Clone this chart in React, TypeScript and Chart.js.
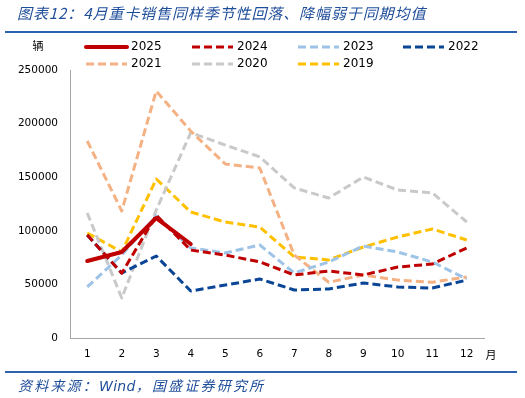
import React, { useEffect, useRef } from 'react';
import { Chart, registerables } from 'chart.js';
Chart.register(...registerables);

const months = ['1', '2', '3', '4', '5', '6', '7', '8', '9', '10', '11', '12'];
const y2025 = [71800, 80200, 111900, 87700, null, null, null, null, null, null, null, null];
const y2024 = [96000, 60500, 114500, 82000, 77400, 71000, 58800, 62500, 58800, 66200, 69000, 84000];
const y2023 = [47600, 77400, 114000, 84000, 79300, 86800, 60600, 70900, 85800, 80200, 70900, 55000];
const y2022 = [96100, 60600, 76500, 43800, 49400, 55000, 44800, 45700, 51300, 47600, 46600, 54000];
const y2021 = [183800, 118500, 230400, 193000, 162300, 158600, 77400, 52000, 58800, 54000, 52000, 57000];
const y2020 = [116600, 37300, 119400, 191500, 180000, 169000, 140000, 130600, 150200, 138000, 135400, 108200];
const y2019 = [98000, 80200, 148300, 117500, 108200, 103500, 75600, 72800, 84900, 94200, 101700, 91400];

const seriesNames = ['2025', '2024', '2023', '2022', '2021', '2020', '2019'];
const seriesColors = ['#C00000', '#C00000', '#9DC3E6', '#0B4596', '#F4B183', '#C9C9C9', '#FFC000'];
const seriesData = [y2025, y2024, y2023, y2022, y2021, y2020, y2019];

const TICK_FONT = { family: 'DejaVu Sans', size: 10.5 };

const legendPlugin = {
  id: 'customLegend',
  afterDraw(chart: any) {
    const ctx = chart.ctx;
    const cols = [86, 192, 298, 403];
    const rows = [47, 64];
    ctx.save();
    chart.data.datasets.forEach((ds: any, i: number) => {
      const x = cols[i % 4];
      const y = rows[Math.floor(i / 4)];
      ctx.beginPath();
      ctx.strokeStyle = ds.borderColor;
      ctx.lineWidth = ds.borderWidth;
      ctx.setLineDash(ds.borderDash || []);
      ctx.lineCap = ds.borderDash && ds.borderDash.length ? 'butt' : 'round';
      ctx.moveTo(x, y);
      ctx.lineTo(x + 41, y);
      ctx.stroke();
      ctx.setLineDash([]);
      ctx.fillStyle = '#000';
      ctx.font = '12px "DejaVu Sans"';
      ctx.textBaseline = 'middle';
      ctx.textAlign = 'left';
      ctx.fillText(ds.label, x + 45, y);
    });
    ctx.font = '11px "Noto Sans CJK SC"';
    ctx.textAlign = 'center';
    ctx.fillText('辆', 38, 46);
    ctx.fillText('月', 491, 355);
    ctx.restore();
  },
};

export default function App() {
  const ref = useRef<HTMLCanvasElement>(null);
  useEffect(() => {
    if (!ref.current) return;
    const chart = new Chart(ref.current, {
      type: 'line',
      data: {
        labels: months,
        datasets: seriesData.map((d, i) => ({
          label: seriesNames[i],
          data: d,
          borderColor: seriesColors[i],
          backgroundColor: seriesColors[i],
          borderWidth: i === 0 ? 4 : 3,
          borderDash: i === 0 ? [] : [8, 4],
          borderCapStyle: i === 0 ? 'round' : 'butt',
          borderJoinStyle: 'round',
          pointRadius: 0,
          tension: 0,
          fill: false,
        })) as any,
      },
      options: {
        responsive: false,
        animation: false,
        devicePixelRatio: 1,
        layout: { padding: { top: 70, right: 41, bottom: 0, left: 0 } },
        plugins: { legend: { display: false }, tooltip: { enabled: false }, title: { display: false } },
        scales: {
          x: {
            offset: true,
            grid: { display: false, drawTicks: false },
            border: { display: true, color: '#A6A6A6', width: 1 },
            ticks: { color: '#000', font: TICK_FONT, padding: 10, maxRotation: 0, autoSkip: false },
            afterFit: (s: any) => { s.height = 60; },
          },
          y: {
            min: 0,
            max: 250000,
            grid: { display: false, drawTicks: false },
            border: { display: true, color: '#A6A6A6', width: 1 },
            ticks: { stepSize: 50000, color: '#000', font: TICK_FONT, padding: 12, callback: (v: any) => String(v) },
            afterFit: (s: any) => { s.width = 70; },
          },
        },
      },
      plugins: [legendPlugin],
    });
    return () => chart.destroy();
  }, []);

  return (
    <div style={{ position: 'fixed', left: 0, top: 0, width: 525, height: 398, background: '#fff', overflow: 'hidden' }}>
      <canvas ref={ref} width={525} height={398} style={{ position: 'absolute', left: 0, top: 0, width: 525, height: 398 }} />
      <div style={{ position: 'absolute', left: 17, top: 3, fontFamily: '"Noto Sans CJK SC"', fontStyle: 'italic', fontSize: 15, lineHeight: '20px', letterSpacing: 0.9, color: '#1F4E9A', whiteSpace: 'nowrap' }}>
        图表12：4月重卡销售同样季节性回落、降幅弱于同期均值
      </div>
      <div style={{ position: 'absolute', left: 5, top: 31, width: 512, height: 2, background: '#2E62AE' }} />
      <div style={{ position: 'absolute', left: 5, top: 371, width: 512, height: 2, background: '#2E62AE' }} />
      <div style={{ position: 'absolute', left: 18, top: 375, fontFamily: '"Noto Sans CJK SC"', fontStyle: 'italic', fontSize: 14, lineHeight: '20px', letterSpacing: 2.2, color: '#1F4E9A', whiteSpace: 'nowrap' }}>
        资料来源：<span style={{ fontFamily: '"DejaVu Sans"', letterSpacing: 0.3 }}>Wind</span>，国盛证券研究所
      </div>
    </div>
  );
}
